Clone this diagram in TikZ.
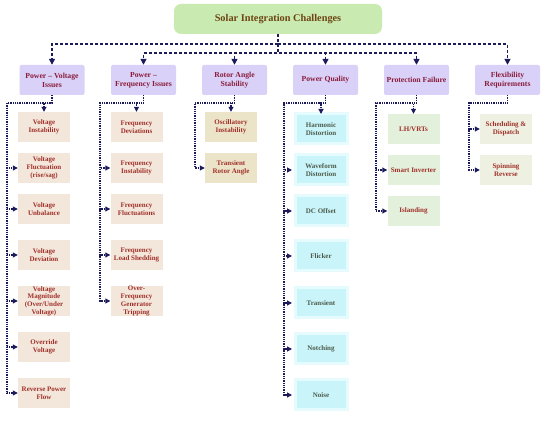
\documentclass[tikz,border=0pt]{standalone}
\usepackage{fontspec}
\setmainfont{Liberation Serif}
\usetikzlibrary{arrows.meta}
\definecolor{navy}{HTML}{1B1B5C}
\definecolor{titlefill}{HTML}{C9EBB1}
\definecolor{titletext}{HTML}{6E4414}
\definecolor{catfill}{HTML}{D9D1F7}
\definecolor{cattext}{HTML}{8A1C3C}
\definecolor{peach}{HTML}{F3E6DA}
\definecolor{khaki}{HTML}{ECE4C9}
\definecolor{cyanfill}{HTML}{C8F4FA}
\definecolor{cyanhalo}{HTML}{E6FBFD}
\definecolor{greenfill}{HTML}{E3F0DC}
\definecolor{palefill}{HTML}{EEF1E1}
\definecolor{leaftext}{HTML}{A0302A}
\definecolor{pqtext}{HTML}{4E5B4A}
\tikzset{
  conn/.style={draw=navy, line width=1.6pt, dash pattern=on 3pt off 2pt, -{Triangle[length=6pt,width=6pt]}},
  sub/.style={draw=navy, line width=1.1pt, dash pattern=on 1.3pt off 1pt, -{Triangle[length=5pt,width=5pt]}},
  titlebox/.style={fill=titlefill, rounded corners=7pt, minimum width=208pt, minimum height=30pt, inner sep=0pt, text=titletext, font=\fontsize{10.3}{12}\selectfont\bfseries},
  cat/.style={fill=catfill, rounded corners=2pt, minimum width=65pt, minimum height=30pt, inner sep=0pt, align=center, text=cattext, font=\fontsize{7.7}{8.8}\selectfont\bfseries},
  leaf/.style={minimum width=52pt, minimum height=30pt, inner sep=0pt, align=center, text=leaftext, font=\fontsize{7}{7.7}\selectfont\bfseries},
  pv/.style={leaf, fill=peach},
  ra/.style={leaf, fill=khaki},
  pq/.style={leaf, fill=cyanfill, draw=cyanhalo, line width=3pt, text=pqtext},
  pf/.style={leaf, fill=greenfill},
  fx/.style={leaf, fill=palefill},
}
\begin{document}
\begin{tikzpicture}[x=1pt,y=-1pt]
\useasboundingbox (0,0) rectangle (550,422);

\node[titlebox] (title) at (278,19) {Solar Integration Challenges};

\node[cat] (c1) at (52,80) {Power – Voltage\\Issues};
\node[cat] (c2) at (143.5,80) {Power –\\Frequency Issues};
\node[cat] (c3) at (234.5,80) {Rotor Angle\\Stability};
\node[cat] (c4) at (325.5,80) {Power Quality};
\node[cat] (c5) at (416.5,80) {Protection Failure};
\node[cat] (c6) at (507.5,80) {Flexibility\\Requirements};

% column 1
\node[pv] (a1) at (44,127) {Voltage\\Instability};
\node[pv] (a2) at (44,168) {Voltage\\Fluctuation\\(rise/sag)};
\node[pv] (a3) at (44,209) {Voltage\\Unbalance};
\node[pv] (a4) at (44,255) {Voltage\\Deviation};
\node[pv] (a5) at (44,301) {Voltage\\Magnitude\\(Over/Under\\Voltage)};
\node[pv] (a6) at (44,347) {Override\\Voltage};
\node[pv] (a7) at (44,393) {Reverse Power\\Flow};
% column 2
\node[pv] (b1) at (136.5,127) {Frequency\\Deviations};
\node[pv] (b2) at (136.5,168) {Frequency\\Instability};
\node[pv] (b3) at (136.5,209) {Frequency\\Fluctuations};
\node[pv] (b4) at (136.5,255) {Frequency\\Load Shedding};
\node[pv] (b5) at (136.5,301) {Over-\\Frequency\\Generator\\Tripping};
% column 3
\node[ra] (r1) at (231,127) {Oscillatory\\Instability};
\node[ra] (r2) at (231,168) {Transient\\Rotor Angle};
% column 4
\node[pq] (q1) at (321,129) {Harmonic\\Distortion};
\node[pq] (q2) at (321,170) {Waveform\\Distortion};
\node[pq] (q3) at (321,211) {DC Offset};
\node[pq] (q4) at (321,256) {Flicker};
\node[pq] (q5) at (321,303) {Transient};
\node[pq] (q6) at (321,349) {Notching};
\node[pq] (q7) at (321,395) {Noise};
% column 5
\node[pf] (p1) at (413.5,129) {LH/VRTs};
\node[pf] (p2) at (413.5,170) {Smart Inverter};
\node[pf] (p3) at (413.5,211) {Islanding};
% column 6
\node[fx] (f1) at (506,129) {Scheduling \&\\Dispatch};
\node[fx] (f2) at (506,170) {Spinning\\Reverse};

% top connectors
\draw[conn] (title.south) -- ++(0,10) -| (c1.north);
\draw[conn] (title.south) -- ++(0,10) -| (c6.north);
\draw[conn] (title.south) -- ++(0,19) -| (c2.north);
\draw[conn] (title.south) -- ++(0,19) -| (c3.north);
\draw[conn] (title.south) -- ++(0,19) -| (c4.north);
\draw[conn] (title.south) -- ++(0,19) -| (c5.north);

% junction coordinates
\coordinate (t1) at (7,103);
\coordinate (t2) at (100,103);
\coordinate (t3) at (195,103);
\coordinate (t4) at (284,103);
\coordinate (t5) at (376,103);
\coordinate (t6) at (469,103);

% column 1
\draw[sub] (c1.south) |- (t1 -| a1.north) -- (a1.north);
\foreach \n in {a2,a3,a4,a5,a6,a7} \draw[sub] (c1.south) |- (t1) |- (\n.west);
% column 2
\draw[sub] (c2.south) |- (t2 -| b1.north) -- (b1.north);
\foreach \n in {b2,b3,b4,b5} \draw[sub] (c2.south) |- (t2) |- (\n.west);
% column 3
\draw[sub] (c3.south) |- (t3 -| r1.north) -- (r1.north);
\draw[sub] (c3.south) |- (t3) |- (r2.west);
% column 4
\draw[sub] (c4.south) |- (t4 -| q1.north) -- ([yshift=-1.5pt]q1.north);
\foreach \n in {q2,q3,q4,q5,q6,q7} \draw[sub] (c4.south) |- (t4) |- ([xshift=-1.5pt]\n.west);
% column 5
\draw[sub] (c5.south) |- (t5 -| p1.north) -- (p1.north);
\foreach \n in {p2,p3} \draw[sub] (c5.south) |- (t5) |- (\n.west);
% column 6
\foreach \n in {f1,f2} \draw[sub] (c6.south) |- (t6) |- (\n.west);
\end{tikzpicture}
\end{document}
